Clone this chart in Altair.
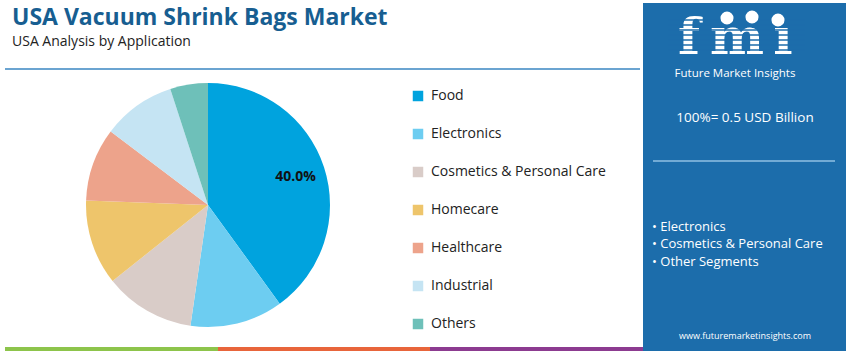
import altair as alt
import pandas as pd

# ---- data ----
categories = ["Food", "Electronics", "Cosmetics & Personal Care", "Homecare",
              "Healthcare", "Industrial", "Others"]
shares = [40.0, 12.3, 12.0, 11.3, 9.7, 9.7, 5.0]
colors = ["#00A3DE", "#6DCDF1", "#D9CCC8", "#EEC56B", "#EDA38B", "#C5E4F3", "#6EC0B9"]

title_text = "USA Vacuum Shrink Bags Market"
subtitle_text = "USA Analysis by Application"
total_text = "100%= 0.5 USD Billion"
bullets = ["• Electronics", "• Cosmetics & Personal Care", "• Other Segments"]
website = "www.futuremarketinsights.com"
brand = "Future Market Insights"
logo_letters = ["f", "m", "ı"]

FONT = "Open Sans"
PANEL = "#1C6DAB"

df = pd.DataFrame({"cat": categories, "share": shares, "idx": list(range(len(categories)))})
one = pd.DataFrame({"k": [0]})


def txt(s, x, y, size, color, weight="normal", align="left", font=FONT, baseline="alphabetic"):
    return alt.Chart(one).mark_text(
        text=s, fontSize=size, color=color, fontWeight=weight, align=align,
        font=font, baseline=baseline
    ).encode(x=alt.value(x), y=alt.value(y))


def rect(x, x2, y, y2, color):
    return alt.Chart(one).mark_rect(color=color).encode(
        x=alt.value(x), x2=alt.value(x2), y=alt.value(y), y2=alt.value(y2))


def rule(x, x2, y, color, w):
    return alt.Chart(one).mark_rule(color=color, strokeWidth=w).encode(
        x=alt.value(x), x2=alt.value(x2), y=alt.value(y))


color_scale = alt.Scale(domain=categories, range=colors)

pie = alt.Chart(df).mark_arc(outerRadius=122, stroke=None).encode(
    theta=alt.Theta("share:Q", stack=True),
    color=alt.Color("cat:N", scale=color_scale, sort=categories,
                    legend=alt.Legend(title=None, orient="none", legendX=411, legendY=89,
                                      symbolType="square", symbolSize=110,
                                      labelFontSize=14, labelColor="#222222", labelFont=FONT,
                                      labelLimit=400,
                                      rowPadding=24, labelOffset=6, symbolStrokeWidth=0)),
    order=alt.Order("idx:Q"),
    x=alt.value(208), y=alt.value(205),
)

pie_label = alt.Chart(df).transform_calculate(
    lab="datum.idx == 0 ? format(datum.share, '.1f') + '%' : ''"
).mark_text(radius=92, fontSize=14, fontWeight="bold", color="#111111", font=FONT).encode(
    theta=alt.Theta("share:Q", stack=True),
    order=alt.Order("idx:Q"),
    text="lab:N",
    x=alt.value(208), y=alt.value(205),
)

layers = [
    txt(title_text, 12, 25, 23, "#175E91", weight="bold"),
    txt(subtitle_text, 12, 46, 14, "#222222"),
    rule(5, 640, 69, "#3A86C2", 1.5),
    pie, pie_label,
    # right panel
    rect(643, 846, 3, 351, PANEL),
]
for letter, cx in zip(logo_letters, [689, 737, 783]):
    layers.append(txt(letter, cx, 54, 51, "white", weight="bold", align="center",
                      font="DejaVu Serif"))
# stripes across logo
for yy in [20, 25, 30, 35, 40, 45, 50]:
    layers.append(rule(668, 805, yy, PANEL, 1.4))
for cx, cy in [(727, 18), (752, 17), (778, 20)]:
    layers.append(alt.Chart(one).mark_point(filled=True, size=170, color="white", opacity=1)
                  .encode(x=alt.value(cx), y=alt.value(cy)))
layers += [
    txt(brand, 735, 77, 11.5, "white", align="center"),
    txt(total_text, 745, 122, 13.5, "white", align="center"),
    rule(653, 835, 161, "#8FC1E3", 1.5),
    txt(bullets[0], 652, 231, 13, "white"),
    txt(bullets[1], 652, 248, 13, "white"),
    txt(bullets[2], 652, 266, 13, "white"),
    txt(website, 745, 339, 9, "white", align="center"),
    # bottom stripe
    rect(5, 218, 347, 351, "#8DC44B"),
    rect(218, 430, 347, 351, "#E8653B"),
    rect(430, 643, 347, 351, "#8C3B90"),
]

chart = alt.layer(*layers).properties(
    width=850, height=351, autosize=alt.AutoSizeParams(type="none"), padding=0,
    background="white"
).configure_view(stroke=None)

chart.save("out.html", embed_options={"renderer": "svg", "actions": False})
